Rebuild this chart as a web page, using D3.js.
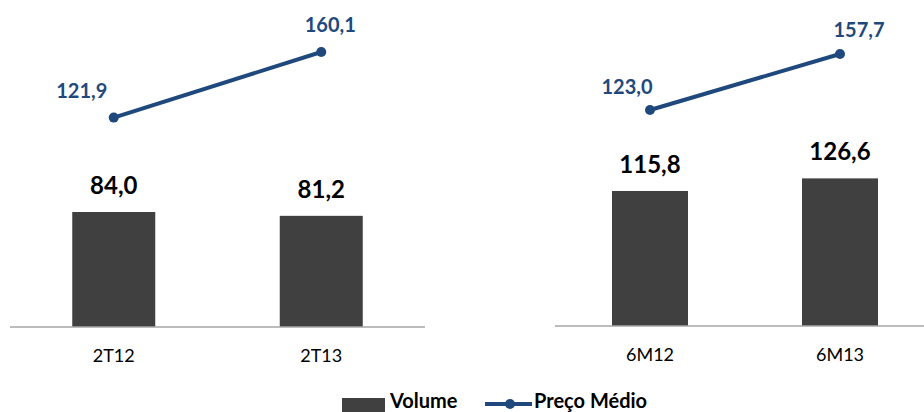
<!DOCTYPE html>
<html>
<head>
<meta charset="utf-8">
<script src="https://cdn.jsdelivr.net/npm/d3@7"></script>
<style>
  html, body { margin: 0; padding: 0; background: #fff; }
  svg { display: block; }
</style>
</head>
<body>
<svg id="chart" width="924" height="412"></svg>
<script>
// data
const categoriesQ = ['2T12', '2T13'];
const volumeQ = [84.0, 81.2];
const precoQ = [121.9, 160.1];

const categoriesS = ['6M12', '6M13'];
const volumeS = [115.8, 126.6];
const precoS = [123.0, 157.7];

const barColor = '#404040';
const lineColor = '#1F497D';
const fontFam = 'Lato, "Open Sans", sans-serif';

const ptBR = d3.formatLocale({ decimal: ',', thousands: '.', grouping: [3], currency: ['R$', ''] });
const fmt = ptBR.format('.1f');

const svg = d3.select('#chart');

/* one panel = bars + line on its own scales */
function drawPanel(p) {
  const g = svg.append('g');

  const x = d3.scaleBand()
    .domain(p.categories)
    .range([p.x0, p.x1])
    .paddingInner(0.6)
    .paddingOuter(0.3);

  const yBar = d3.scaleLinear().domain([0, 100]).range([p.base, p.base - p.barPx]);
  const yLine = d3.scaleLinear().domain(p.lineDomain).range(p.lineRange);

  const rows = p.categories.map((c, i) => ({ cat: c, vol: p.volume[i], preco: p.preco[i], i }));

  // bars
  g.append('g')
    .selectAll('rect')
    .data(rows)
    .join('rect')
    .attr('x', (d) => x(d.cat))
    .attr('y', (d) => yBar(d.vol))
    .attr('width', x.bandwidth())
    .attr('height', (d) => yBar(0) - yBar(d.vol))
    .attr('fill', barColor);

  // axis line + category labels
  const xAxis = d3.axisBottom(x).tickSize(0).tickPadding(22);
  const ax = g.append('g')
    .attr('transform', `translate(0,${p.base})`)
    .call(xAxis);
  ax.select('.domain').attr('stroke', '#A6A6A6').attr('stroke-width', 1.5)
    .attr('d', `M${p.lineX0},0H${p.x1}`);
  ax.selectAll('text')
    .attr('font-family', fontFam)
    .attr('font-size', '18px')
    .attr('fill', '#000');

  // bar value labels
  g.append('g')
    .selectAll('text')
    .data(rows)
    .join('text')
    .attr('x', (d) => x(d.cat) + x.bandwidth() / 2)
    .attr('y', (d) => yBar(d.vol) - 18)
    .attr('text-anchor', 'middle')
    .attr('font-family', fontFam)
    .attr('font-weight', 'bold')
    .attr('font-size', '24px')
    .attr('fill', '#000')
    .text((d) => fmt(d.vol));

  // line
  const line = d3.line()
    .x((d) => x(d.cat) + x.bandwidth() / 2)
    .y((d) => yLine(d.preco));

  g.append('path')
    .datum(rows)
    .attr('d', line)
    .attr('fill', 'none')
    .attr('stroke', lineColor)
    .attr('stroke-width', 4);

  g.append('g')
    .selectAll('circle')
    .data(rows)
    .join('circle')
    .attr('cx', (d) => x(d.cat) + x.bandwidth() / 2)
    .attr('cy', (d) => yLine(d.preco))
    .attr('r', 5)
    .attr('fill', lineColor);

  g.append('g')
    .selectAll('text')
    .data(rows)
    .join('text')
    .attr('x', (d) => x(d.cat) + x.bandwidth() / 2 + p.labelDx[d.i])
    .attr('y', (d) => yLine(d.preco) + p.labelDy[d.i])
    .attr('text-anchor', 'middle')
    .attr('font-family', fontFam)
    .attr('font-weight', 'bold')
    .attr('font-size', '20px')
    .attr('fill', lineColor)
    .text((d) => fmt(d.preco));
}

drawPanel({
  categories: categoriesQ, volume: volumeQ, preco: precoQ,
  x0: 10, x1: 425, lineX0: 10, base: 327, barPx: 136.9,
  lineDomain: [0, 160.1], lineRange: [327, 52],
  labelDx: [-32, 9], labelDy: [-20, -20]
});

drawPanel({
  categories: categoriesS, volume: volumeS, preco: precoS,
  x0: 555, x1: 935, lineX0: 555, base: 326, barPx: 116.6,
  lineDomain: [123.0, 157.7], lineRange: [110, 54],
  labelDx: [-23, 19], labelDy: [-16, -17]
});

// legend
const leg = svg.append('g').attr('font-family', fontFam).attr('font-weight', 'bold').attr('font-size', '20px');
leg.append('rect').attr('x', 342).attr('y', 398).attr('width', 43).attr('height', 14).attr('fill', barColor);
leg.append('text').attr('x', 390).attr('y', 408).attr('fill', '#000').text('Volume');
leg.append('line').attr('x1', 485).attr('x2', 532).attr('y1', 404).attr('y2', 404)
  .attr('stroke', lineColor).attr('stroke-width', 4);
leg.append('circle').attr('cx', 510).attr('cy', 404).attr('r', 5).attr('fill', lineColor);
leg.append('text').attr('x', 534).attr('y', 408).attr('fill', '#000').text('Preço Médio');
</script>
</body>
</html>
